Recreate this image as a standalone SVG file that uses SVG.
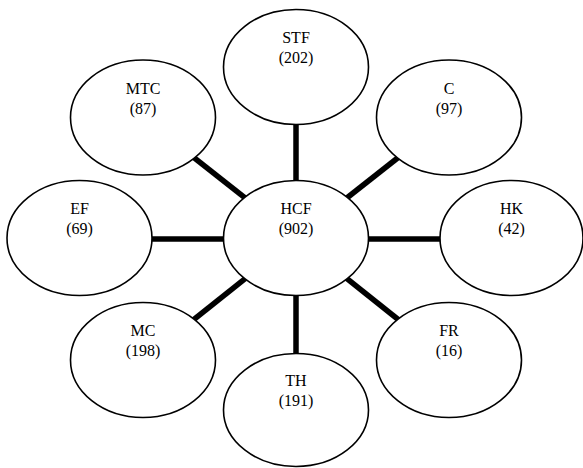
<svg xmlns="http://www.w3.org/2000/svg" width="583" height="468" viewBox="0 0 583 468">
<style>
.node ellipse{fill:#fff;stroke:#000;stroke-width:1.6}
.node text{font-family:"Liberation Serif","Times New Roman",serif;font-size:16px;fill:#000;text-anchor:middle}
#connectors line{stroke:#000;stroke-width:5.5}
</style>
<rect width="583" height="468" fill="#fff"/>
<g id="connectors">
<line x1="296" y1="238" x2="296" y2="67"/>
<line x1="296" y1="238" x2="143" y2="117.5"/>
<line x1="296" y1="238" x2="449" y2="117.5"/>
<line x1="296" y1="239" x2="79.5" y2="239"/>
<line x1="296" y1="239" x2="511.5" y2="239"/>
<line x1="296" y1="238" x2="143" y2="360"/>
<line x1="296" y1="238" x2="449" y2="360"/>
<line x1="296" y1="238" x2="296" y2="410"/>
</g>
<g id="HCF" class="node"><ellipse cx="296" cy="238" rx="72.5" ry="57.5"/><text x="296" y="214">HCF</text><text x="296" y="234">(902)</text></g>
<g id="STF" class="node"><ellipse cx="296" cy="67" rx="72.5" ry="57.5"/><text x="296" y="43">STF</text><text x="296" y="63">(202)</text></g>
<g id="MTC" class="node"><ellipse cx="143" cy="117.5" rx="72.5" ry="57.5"/><text x="143" y="93.5">MTC</text><text x="143" y="113.5">(87)</text></g>
<g id="C" class="node"><ellipse cx="449" cy="117.5" rx="72.5" ry="57.5"/><text x="449" y="93.5">C</text><text x="449" y="113.5">(97)</text></g>
<g id="EF" class="node"><ellipse cx="79.5" cy="238" rx="72.5" ry="57.5"/><text x="79.5" y="214">EF</text><text x="79.5" y="234">(69)</text></g>
<g id="HK" class="node"><ellipse cx="511.5" cy="238" rx="71.5" ry="57.5"/><text x="511.5" y="214">HK</text><text x="511.5" y="234">(42)</text></g>
<g id="MC" class="node"><ellipse cx="143" cy="360" rx="72.5" ry="57.5"/><text x="143" y="336">MC</text><text x="143" y="356">(198)</text></g>
<g id="FR" class="node"><ellipse cx="449" cy="360" rx="72.5" ry="57.5"/><text x="449" y="336">FR</text><text x="449" y="356">(16)</text></g>
<g id="TH" class="node"><ellipse cx="296" cy="410" rx="72.5" ry="56.5"/><text x="296" y="386">TH</text><text x="296" y="406">(191)</text></g>
</svg>
